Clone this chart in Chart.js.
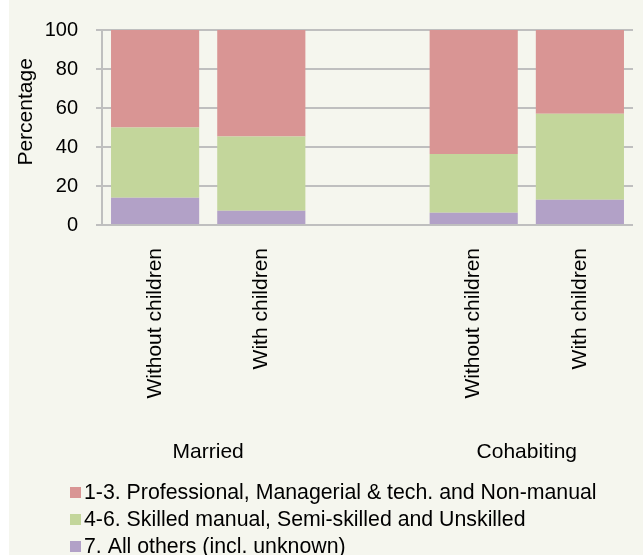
<!DOCTYPE html>
<html>
<head>
<meta charset="utf-8">
<script src="https://cdn.jsdelivr.net/npm/chart.js@4/dist/chart.umd.min.js"></script>
<style>
  body { margin: 0; background: #ffffff; }
  #wrap { width: 643px; height: 555px; }
</style>
</head>
<body>
<div id="wrap"><canvas id="myChart" width="643" height="555"></canvas></div>
<script>
const categories = ['Without children', 'With children', '', 'Without children', 'With children']
const groupLabels = ['Married', 'Cohabiting']
const groupMembers = [[0, 1], [3, 4]]

const professional = [50, 54.6, null, 63.6, 42.9]
const skilled = [36, 38.1, null, 30.1, 44.2]
const others = [14, 7.3, null, 6.3, 12.9]

const yTicks = [0, 20, 40, 60, 80, 100]
const yTitle = 'Percentage'

const FONT = "'Liberation Sans', Arial, sans-serif"

// background: thin white strip on the left, beige elsewhere
const bgPlugin = {
  id: 'bg',
  beforeDraw(chart) {
    const ctx = chart.ctx
    ctx.save()
    ctx.fillStyle = '#ffffff'
    ctx.fillRect(0, 0, chart.width, chart.height)
    ctx.fillStyle = '#f5f6ee'
    ctx.fillRect(9, 0, chart.width - 9, chart.height)
    ctx.restore()
  }
}

// y title, group labels under the rotated category labels, vertical legend
const extrasPlugin = {
  id: 'extras',
  afterDraw(chart) {
    const ctx = chart.ctx
    const x = chart.scales.x
    const y = chart.scales.y
    ctx.save()
    ctx.fillStyle = '#000000'
    ctx.textAlign = 'center'
    ctx.textBaseline = 'middle'

    // axis title sits a bit above the middle of the plot in the original
    ctx.save()
    ctx.font = '21px ' + FONT
    ctx.translate(26, y.getPixelForValue(58))
    ctx.rotate(-Math.PI / 2)
    ctx.fillText(yTitle, 0, 0)
    ctx.restore()

    ctx.font = '21px ' + FONT
    groupLabels.forEach((g, i) => {
      const px = groupMembers[i].map(idx => x.getPixelForValue(idx))
      const mid = px.reduce((a, b) => a + b, 0) / px.length
      ctx.fillText(g, mid, 452)
    })

    // legend, top row is the top of the stack
    const ds = chart.data.datasets.slice().reverse()
    ctx.font = '21.3px ' + FONT
    ctx.textAlign = 'left'
    ds.forEach((d, i) => {
      const ly = 492 + i * 27
      ctx.fillStyle = d.backgroundColor
      ctx.fillRect(70, ly - 5, 11, 11)
      ctx.fillStyle = '#000000'
      ctx.fillText(d.label, 84, ly + 1)
    })
    ctx.restore()
  }
}

const ctx = document.getElementById('myChart')

const data = {
  labels: categories,
  datasets: [
    {
      label: '7. All others (incl. unknown)',
      data: others,
      backgroundColor: '#b2a1c7'
    },
    {
      label: '4-6. Skilled manual, Semi-skilled and Unskilled',
      data: skilled,
      backgroundColor: '#c3d69b'
    },
    {
      label: '1-3. Professional, Managerial & tech. and Non-manual',
      data: professional,
      backgroundColor: '#d99594'
    }
  ]
}

const config = {
  type: 'bar',
  data: data,
  options: {
    responsive: false,
    animation: false,
    devicePixelRatio: 1,
    barPercentage: 0.83,
    categoryPercentage: 1,
    layout: {
      padding: { left: 9, right: 10, top: 29, bottom: 150 }
    },
    plugins: {
      legend: { display: false },
      tooltip: { enabled: false }
    },
    scales: {
      x: {
        stacked: true,
        grid: { display: false, drawTicks: false },
        border: { display: false },
        ticks: {
          autoSkip: false,
          minRotation: 90,
          maxRotation: 90,
          padding: 23,
          color: '#000000',
          font: { family: FONT, size: 21 }
        },
        afterFit(scale) { scale.height = 180 }
      },
      y: {
        stacked: true,
        min: 0,
        max: 100,
        afterBuildTicks(scale) {
          scale.ticks = yTicks.map(v => ({ value: v }))
        },
        grid: {
          color: '#bfbfbf',
          lineWidth: 2,
          tickLength: 6
        },
        border: { display: true, color: '#bfbfbf', width: 2 },
        ticks: {
          padding: 18,
          color: '#000000',
          font: { family: FONT, size: 20 }
        },
        afterFit(scale) { scale.width = 93 }
      }
    }
  },
  plugins: [bgPlugin, extrasPlugin]
}

const myChart = new Chart(ctx, config)
</script>
</body>
</html>
